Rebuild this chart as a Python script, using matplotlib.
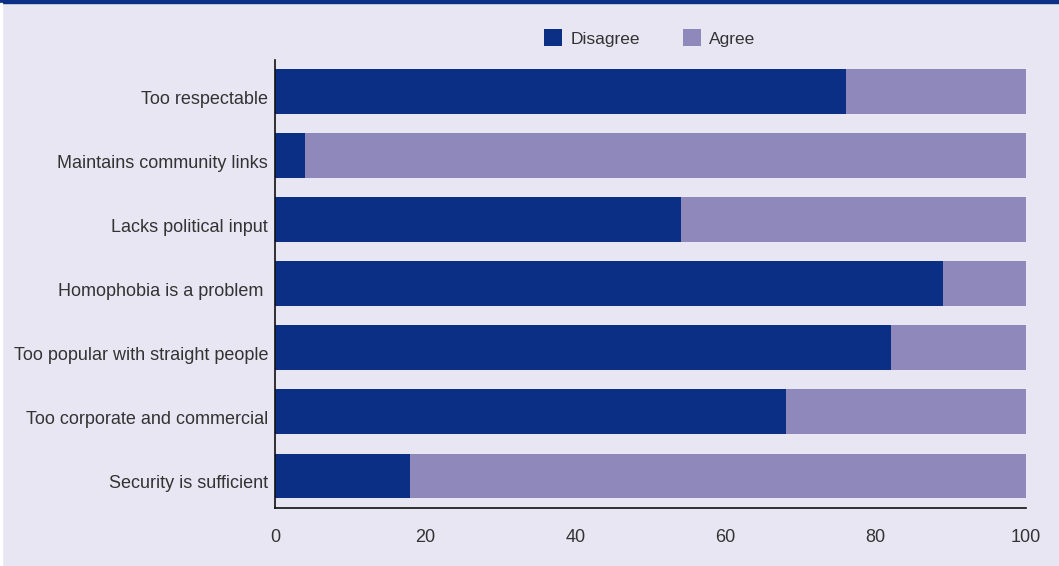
import matplotlib.pyplot as plt
from matplotlib.patches import Rectangle
from matplotlib.transforms import ScaledTranslation

categories = ["Too respectable", "Maintains community links", "Lacks political input",
              "Homophobia is a problem ", "Too popular with straight people",
              "Too corporate and commercial", "Security is sufficient"]
disagree = [76, 4, 54, 89, 82, 68, 18]
agree = [24, 96, 46, 11, 18, 32, 82]
xticks = [0, 20, 40, 60, 80, 100]

bg = "#e8e6f3"
c_dis = "#0b2f85"
c_agr = "#8f89bb"
txt = "#333333"

plt.rcParams['font.family'] = ['Liberation Sans Narrow', 'Liberation Sans', 'DejaVu Sans']

fig = plt.figure(figsize=(10.59, 5.66), dpi=100, facecolor=bg)
ax = fig.add_axes([275 / 1059, 58 / 566, 751 / 1059, 448.5 / 566])
ax.set_facecolor(bg)

y = list(range(len(categories)))
ax.barh(y, disagree, height=0.7, color=c_dis, label="Disagree")
ax.barh(y, agree, left=disagree, height=0.7, color=c_agr, label="Agree")

ax.set_ylim(6.5, -0.5)
ax.set_xlim(0, 100)
ax.set_yticks(y)
ax.set_yticklabels(categories)
ax.set_xticks(xticks)
ax.tick_params(axis='y', length=0, pad=5, labelsize=13, labelcolor=txt)
ax.tick_params(axis='x', length=0, pad=15, labelsize=13, labelcolor=txt)
# category labels sit a little below the bar centres in the original
shift = ScaledTranslation(0, -6 / 100, fig.dpi_scale_trans)
for lab in ax.get_yticklabels():
    lab.set_transform(lab.get_transform() + shift)
for s in ["top", "right"]:
    ax.spines[s].set_visible(False)
for s in ["left", "bottom"]:
    ax.spines[s].set_linewidth(1.2)
    ax.spines[s].set_color("#111111")

leg = fig.legend(loc="center", bbox_to_anchor=(650 / 1059, 1 - 38 / 566), ncol=2,
                 frameon=False, fontsize=12.5, handlelength=1.0, handleheight=1.1,
                 columnspacing=2.5, handletextpad=0.5)
for t in leg.get_texts():
    t.set_color(txt)

# dark band along the top edge and thin white strip on the left
fig.patches.append(Rectangle((0, 1 - 3 / 566), 1, 3 / 566, transform=fig.transFigure,
                             color=c_dis, zorder=5))
fig.patches.append(Rectangle((0, 0), 2 / 1059, 1 - 3 / 566, transform=fig.transFigure,
                             color="white", zorder=5))

fig.savefig("out.png", dpi=100, facecolor=bg)
